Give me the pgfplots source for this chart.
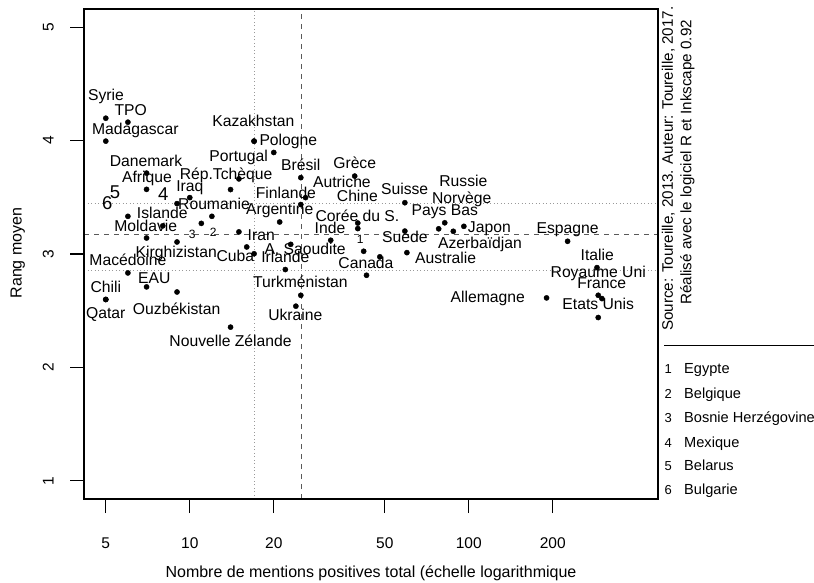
\documentclass[border=0pt]{standalone}
\usepackage{fontspec}
\setmainfont{Liberation Sans}
\usepackage{pgfplots}
\pgfplotsset{compat=1.18}
\usepackage{pgfplotstable}

\newcommand\lab{\fontsize{15.7bp}{18bp}\selectfont}
\newcommand\bignum{\fontsize{18.5bp}{22bp}\selectfont}
\newcommand\smlnum{\fontsize{12bp}{14bp}\selectfont}
\newcommand\tck{\fontsize{15.5bp}{18bp}\selectfont}
\newcommand\ttl{\fontsize{16bp}{19bp}\selectfont}
\newcommand\src{\fontsize{15.2bp}{18bp}\selectfont}

\pgfplotstableread[col sep=comma]{
x,y
5,4.197
6,4.162
5,3.995
17,3.995
17,3.995
20,3.895
7,3.713
25,3.673
39,3.687
15,3.662
14,3.568
7,3.570
10,3.497
26,3.497
9,3.444
25,3.436
59,3.452
6,3.332
12,3.332
8,3.248
11,3.270
21,3.282
40,3.273
40,3.224
82,3.275
78,3.222
88,3.200
96,3.244
15,3.195
59,3.202
32,3.121
226,3.112
7,3.141
9,3.106
16,3.062
23,3.085
42,3.024
48,2.975
60,3.012
17,3.002
6,2.833
22,2.863
43,2.8125
288,2.880
7,2.710
9,2.665
5,2.599
5,2.599
25,2.636
291,2.636
300,2.607
190,2.613
24,2.540
291,2.440
14,2.355
}\pts

\pgfplotstableread[col sep=comma]{
x,y,label
5.01,4.388,Syrie
6.14,4.256,TPO
6.38,4.089,Madagascar
16.9,4.153,Kazakhstan
22.55,3.989,Pologne
14.97,3.849,Portugal
25.0,3.772,Brésil
39.0,3.781,Grèce
6.97,3.801,Danemark
13.49,3.687,Rép.Tchèque
7.02,3.658,Afrique
10.0,3.585,Iraq
35.1,3.620,Autriche
22.1,3.523,Finlande
39.9,3.493,Chine
58.9,3.555,Suisse
95.6,3.629,Russie
94.3,3.479,Norvège
82.0,3.370,Pays Bas
118.5,3.224,Japon
226,3.209,Espagne
109.7,3.077,Azerbaïdjan
59.0,3.129,Suède
82.6,2.945,Australie
288.8,2.974,Italie
291,2.827,Royaume Uni
299.5,2.731,France
116.9,2.607,Allemagne
291,2.540,Etats Unis
12.21,3.420,Roumanie
7.97,3.341,Islande
21.0,3.376,Argentine
39.9,3.317,Corée du S.
31.8,3.209,Inde
6.95,3.229,Moldavie
18.04,3.150,Iran
8.94,3.004,Kirghizistan
14.56,2.965,Cuba
25.9,3.026,A. Saoudite
22.0,2.960,Irlande
42.8,2.907,Canada
6.00,2.930,Macédoine
7.46,2.768,EAU
5.0,2.695,Chili
5.0,2.460,Qatar
8.97,2.496,Ouzbékistan
24.9,2.739,Turkménistan
23.9,2.443,Ukraine
14.0,2.220,Nouvelle Zélande
}\labs

\pgfplotstableread[col sep=comma]{
x,y,label
5.40,3.517,5
8.04,3.502,4
5.06,3.420,6
}\bignums

\pgfplotstableread[col sep=comma]{
x,y,label
10.21,3.171,3
12.14,3.185,2
40.8,3.127,1
}\smlnums

\begin{document}
\begin{tikzpicture}[txt/.style={inner sep=0pt, text height=0.72em, text depth=0pt}]
\useasboundingbox (-84bp,-84bp) rectangle (730bp,499bp);
\clip (-84bp,-84bp) rectangle (730bp,499bp);
\begin{axis}[
  at={(0,0)}, anchor=south west,
  scale only axis, width=574bp, height=490bp,
  xmode=log, xmin=4.177, xmax=476.6, ymin=0.84, ymax=5.16,
  xtick={5,10,20,50,100,200}, xticklabels={5,10,20,50,100,200},
  ytick={1,2,3,4,5}, yticklabels={1,2,3,4,5},
  xminorticks=false, yminorticks=false,
  tick align=outside, tick pos=left,
  major tick length=14bp,
  axis line style={line width=1.1bp},
  every tick/.style={black, line width=1.1bp},
  ticklabel style={font=\tck, inner sep=0pt, text height=0.72em, text depth=0pt},
  xticklabel style={anchor=center, yshift=-32bp},
  yticklabel style={rotate=90, anchor=center, yshift=20bp},
]
\addplot[gray!80, line width=0.8bp, dash pattern=on 1bp off 2.5bp] coordinates {(17,0.84) (17,5.16)};
\addplot[black!65, line width=0.8bp, dash pattern=on 5bp off 5bp] coordinates {(25.2,0.84) (25.2,5.16)};
\addplot[gray!80, line width=0.8bp, dash pattern=on 1bp off 2.5bp] coordinates {(4.177,3.446) (476.6,3.446)};
\addplot[gray!80, line width=0.8bp, dash pattern=on 1bp off 2.5bp] coordinates {(4.177,2.852) (476.6,2.852)};
\addplot[black!65, line width=0.8bp, dash pattern=on 5bp off 5bp] coordinates {(4.177,3.173) (476.6,3.173)};

\addplot[only marks, mark=*, mark size=2.6bp, mark options={fill=black, draw=black}] table[x=x, y=y] {\pts};

\addplot[draw=none, mark=none, nodes near coords, point meta=explicit symbolic,
  nodes near coords align={center},
  every node near coord/.append style={anchor=center, inner sep=0pt, text height=0.72em, text depth=0pt, font=\lab, black}]
  table[x=x, y=y, meta=label] {\labs};
\addplot[draw=none, mark=none, nodes near coords, point meta=explicit symbolic,
  nodes near coords align={center},
  every node near coord/.append style={anchor=center, inner sep=0pt, text height=0.72em, text depth=0pt, font=\bignum, black}]
  table[x=x, y=y, meta=label] {\bignums};
\addplot[draw=none, mark=none, nodes near coords, point meta=explicit symbolic,
  nodes near coords align={center},
  every node near coord/.append style={anchor=center, inner sep=0pt, text height=0.72em, text depth=0pt, font=\smlnum, black}]
  table[x=x, y=y, meta=label] {\smlnums};
\end{axis}
\draw[line width=1.1bp] (0,0) rectangle (574bp,490bp);

\node[txt, rotate=90, font=\ttl] at (-66bp,246bp) {Rang moyen};
\node[txt, font=\ttl] at (287bp,-75bp) {Nombre de mentions positives total (échelle logarithmique};

\node[txt, rotate=90, font=\src] at (585.3bp,330.3bp) {Source: Toureille, 2013. Auteur: Toureille, 2017.};
\node[txt, rotate=90, font=\src] at (603.7bp,336.7bp) {Réalisé avec le logiciel R et Inkscape 0.92};

\draw[line width=1.1bp] (580bp,153.3bp) -- (740bp,153.3bp);
\foreach \n/\t/\yy in {1/Egypte/129, 2/Belgique/104, 3/Bosnie Herzégovine/79.7, 4/Mexique/55, 5/Belarus/31.7, 6/Bulgarie/8}{
  \node[txt, font=\fontsize{13bp}{15bp}\selectfont] at (584.3bp,\yy bp) {\n};
  \node[txt, anchor=west, font=\fontsize{14.6bp}{17bp}\selectfont] at (600bp,\yy bp) {\t};
}
\end{tikzpicture}
\end{document}
